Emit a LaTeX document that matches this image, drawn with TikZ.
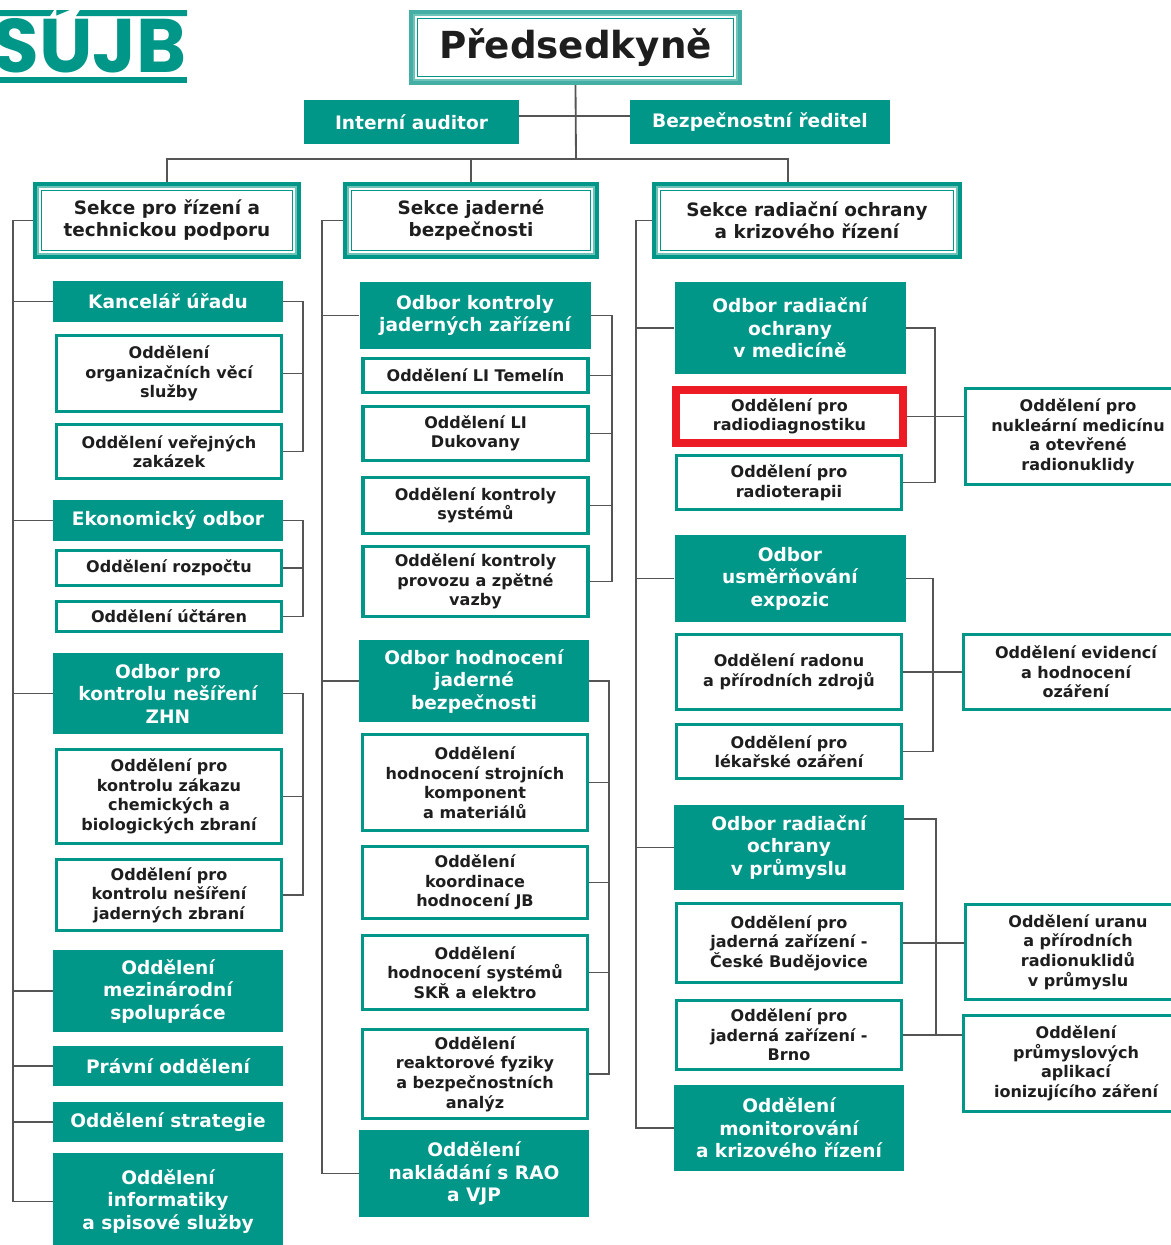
\documentclass[tikz,border=0pt]{standalone}
\usepackage{fontspec}
\setmainfont{DejaVu Sans}
\newfontfamily\logofont{Poppins}

\definecolor{tealC}{RGB}{0,150,136}
\definecolor{tealL}{RGB}{110,195,185}
\definecolor{tealM}{RGB}{70,175,165}
\definecolor{lineC}{RGB}{85,85,85}
\definecolor{txtC}{RGB}{30,30,30}
\definecolor{redC}{RGB}{237,28,36}

\tikzset{
  % box sizes given in pixels of the picture
  boxsize/.style 2 args={minimum width=#1*0.025cm, minimum height=#2*0.025cm},
  % section boxes with a double frame
  secbox/.style={draw=tealC, line width=3pt, fill=white, text=txtC, align=center, inner sep=0pt,
    font=\fontsize{13.1}{15.6}\selectfont\bfseries,
    path picture={
      \draw[tealL, line width=1.6pt] ([xshift=2.3pt,yshift=-2.3pt]path picture bounding box.north west) rectangle ([xshift=-2.3pt,yshift=2.3pt]path picture bounding box.south east);
      \draw[tealC, line width=0.8pt] ([xshift=4.4pt,yshift=-4.4pt]path picture bounding box.north west) rectangle ([xshift=-4.4pt,yshift=4.4pt]path picture bounding box.south east);}},
  % filled boxes
  headbox/.style={fill=tealC, text=white, align=center, inner sep=0pt,
    font=\fontsize{13.2}{16}\selectfont\bfseries},
  % white boxes
  unitbox/.style={draw=tealC, line width=2.4pt, fill=white, text=txtC, align=center, inner sep=0pt,
    font=\fontsize{11.4}{13.9}\selectfont\bfseries},
  markbox/.style={unitbox, draw=redC, line width=6pt},
  conn/.style={draw=lineC, line width=1.3pt},
}

\begin{document}
\begin{tikzpicture}[x=0.025cm, y=-0.025cm]
  \useasboundingbox (0,0) rectangle (1171,1245);
  \clip (0,0) rectangle (1171,1245);

  % Logo
  \begin{scope}
    \clip (0,10) rectangle (200,90);
    \node[anchor=base east, inner sep=0pt, text=tealC, font=\logofont\fontsize{54}{54}\selectfont\bfseries] (logo) at (187,72) {SÚJB};
  \end{scope}
  \fill[tealC] (0,10) -- (54,10) -- (50,16) -- (0,16) -- cycle;
  \fill[tealC] (80,10) -- (187,10) -- (187,16) -- (76,16) -- cycle;
  \fill[tealC] (0,77) rectangle (187,83);

  % Top of the chart
  \node[secbox, draw=tealM, boxsize={329}{71}, font=\fontsize{26.5}{30}\selectfont\bfseries] (pred) at (575.5,47.5) {Předsedkyně};
  \node[headbox, boxsize={215}{44}] (audit) at (411.5,122) {Interní auditor};
  \node[headbox, boxsize={260}{44}] (bezp) at (760,122) {Bezpečnostní ředitel};

  % Sections
  \node[secbox, boxsize={264}{73}] (sek1) at (167,220.5) {Sekce pro řízení a\\technickou podporu};
  \node[secbox, boxsize={252}{73}] (sek2) at (471,220.5) {Sekce jaderné\\bezpečnosti};
  \node[secbox, boxsize={306}{73}] (sek3) at (807,220.5) {Sekce radiační ochrany\\a krizového řízení};

  % Left column
  \node[headbox, boxsize={230}{41}] (kanc) at (168,301.5) {Kancelář úřadu};
  \node[unitbox, boxsize={225}{76}] (org) at (169,373.5) {Oddělení\\organizačních věcí\\služby};
  \node[unitbox, boxsize={225}{54}] (verej) at (169,451.5) {Oddělení veřejných\\zakázek};
  \node[headbox, boxsize={230}{41}] (ekon) at (168,520.5) {Ekonomický odbor};
  \node[unitbox, boxsize={225}{35}] (rozp) at (169,568) {Oddělení rozpočtu};
  \node[unitbox, boxsize={225}{30}] (uct) at (169,616.5) {Oddělení účtáren};
  \node[headbox, boxsize={230}{81}] (zhn) at (168,693.5) {Odbor pro\\kontrolu nešíření\\ZHN};
  \node[unitbox, boxsize={225}{94}] (chem) at (169,796.5) {Oddělení pro\\kontrolu zákazu\\chemických a\\biologických zbraní};
  \node[unitbox, boxsize={225}{71}] (jadz) at (169,895) {Oddělení pro\\kontrolu nešíření\\jaderných zbraní};
  \node[headbox, boxsize={230}{82}] (mezi) at (168,991) {Oddělení\\mezinárodní\\spolupráce};
  \node[headbox, boxsize={230}{40}] (prav) at (168,1066) {Právní oddělení};
  \node[headbox, boxsize={230}{40}] (strat) at (168,1122) {Oddělení strategie};
  \node[headbox, boxsize={230}{97}] (info) at (168,1201.5) {Oddělení\\informatiky\\a spisové služby};

  % Middle column
  \node[headbox, boxsize={231}{67}] (kjz) at (475,315.5) {Odbor kontroly\\jaderných zařízení};
  \node[unitbox, boxsize={225}{34}] (tem) at (475.5,375.5) {Oddělení LI Temelín};
  \node[unitbox, boxsize={225}{54}] (duk) at (475.5,433.5) {Oddělení LI\\Dukovany};
  \node[unitbox, boxsize={225}{56}] (sys) at (475.5,505.5) {Oddělení kontroly\\systémů};
  \node[unitbox, boxsize={225}{70}] (prov) at (475.5,581.5) {Oddělení kontroly\\provozu a zpětné\\vazby};
  \node[headbox, boxsize={230}{82}] (hjb) at (474,681) {Odbor hodnocení\\jaderné\\bezpečnosti};
  \node[unitbox, boxsize={225}{96}] (stroj) at (475,782.5) {Oddělení\\hodnocení strojních\\komponent\\a materiálů};
  \node[unitbox, boxsize={225}{72}] (koord) at (475,882.5) {Oddělení\\koordinace\\hodnocení JB};
  \node[unitbox, boxsize={225}{74}] (skr) at (475,972.5) {Oddělení\\hodnocení systémů\\SKŘ a elektro};
  \node[unitbox, boxsize={225}{89}] (reak) at (475,1074) {Oddělení\\reaktorové fyziky\\a bezpečnostních\\analýz};
  \node[headbox, boxsize={230}{87}] (rao) at (474,1173.5) {Oddělení\\nakládání s RAO\\a VJP};

  % Right column
  \node[headbox, boxsize={231}{92}] (med) at (790,328) {Odbor radiační\\ochrany\\v medicíně};
  \node[markbox, boxsize={227}{53}] (rdiag) at (789.5,416.5) {Oddělení pro\\radiodiagnostiku};
  \node[unitbox, boxsize={225}{54}] (rter) at (789,482.5) {Oddělení pro\\radioterapii};
  \node[unitbox, boxsize={225}{96}] (nukl) at (1078,436.5) {Oddělení pro\\nukleární medicínu\\a otevřené\\radionuklidy};
  \node[headbox, boxsize={231}{87}] (usm) at (790,578.5) {Odbor\\usměrňování\\expozic};
  \node[unitbox, boxsize={225}{75}] (radon) at (789,672) {Oddělení radonu\\a přírodních zdrojů};
  \node[unitbox, boxsize={225}{54}] (lek) at (789,751.5) {Oddělení pro\\lékařské ozáření};
  \node[unitbox, boxsize={225}{75}] (evid) at (1076,672) {Oddělení evidencí\\a hodnocení\\ozáření};
  \node[headbox, boxsize={230}{85}] (prum) at (789,847.5) {Odbor radiační\\ochrany\\v průmyslu};
  \node[unitbox, boxsize={225}{79}] (cb) at (789,943) {Oddělení pro\\jaderná zařízení -\\České Budějovice};
  \node[unitbox, boxsize={225}{69}] (brno) at (789,1035) {Oddělení pro\\jaderná zařízení -\\Brno};
  \node[headbox, boxsize={230}{86}] (mon) at (789,1128) {Oddělení\\monitorování\\a krizového řízení};
  \node[unitbox, boxsize={225}{95}] (uran) at (1078,952) {Oddělení uranu\\a přírodních\\radionuklidů\\v průmyslu};
  \node[unitbox, boxsize={225}{96}] (apl) at (1076,1063.5) {Oddělení\\průmyslových\\aplikací\\ionizujícího záření};

  % Lines from the top
  \coordinate (bus) at (576,159);
  \coordinate (busR) at (788,159);
  \draw[conn] (pred.south) -- (bus);
  \draw[conn] ([yshift=4pt]audit.east) -- ([yshift=4pt]bezp.west);
  \draw[conn] (sek1.north) |- (busR) -- (busR |- sek3.north);
  \draw[conn] (sek2.north) -- (sek2.north |- bus);

  % Spines of the sections
  \draw[conn] (sek1.west) -- ++(-20,0) coordinate (sp1) |- (info.west);
  \foreach \n in {kanc,ekon,zhn,mezi,prav,strat}
    \draw[conn] (\n.west) -- (\n.west -| sp1);
  \draw[conn] (sek2.west) -- ++(-21,0) coordinate (sp2) |- (rao.west);
  \foreach \n in {kjz,hjb}
    \draw[conn] (\n.west) -- (\n.west -| sp2);
  \draw[conn] (sek3.west) -- ++(-16,0) coordinate (sp3) |- (mon.west);
  \foreach \n in {med,usm,prum}
    \draw[conn] (\n.west) -- (\n.west -| sp3);

  % Brackets of the departments
  \draw[conn] (kanc.east) -- ++(20,0) coordinate (b1) |- (verej.east);
  \draw[conn] (org.east) -- (org.east -| b1);
  \draw[conn] (ekon.east) -- ++(20,0) coordinate (b2) |- (uct.east);
  \draw[conn] (rozp.east) -- (rozp.east -| b2);
  \draw[conn] (zhn.east) -- ++(20,0) coordinate (b3) |- (jadz.east);
  \draw[conn] (chem.east) -- (chem.east -| b3);
  \draw[conn] (kjz.east) -- ++(21,0) coordinate (b4) |- (prov.east);
  \foreach \n in {tem,duk,sys}
    \draw[conn] (\n.east) -- (\n.east -| b4);
  \draw[conn] (hjb.east) -- ++(20,0) coordinate (b5) |- (reak.east);
  \foreach \n in {stroj,koord,skr}
    \draw[conn] (\n.east) -- (\n.east -| b5);
  \draw[conn] (med.east) -- ++(29.5,0) coordinate (b6) |- (rter.east);
  \draw[conn] (rdiag.east) -- (rdiag.east -| nukl.west);
  \draw[conn] (usm.east) -- ++(27.5,0) coordinate (b7) |- (lek.east);
  \draw[conn] (radon.east) -- (radon.east -| evid.west);
  \draw[conn] ([yshift=20pt]prum.east) -- ++(32,0) coordinate (b8) |- (brno.east);
  \draw[conn] (cb.east) -- (cb.east -| uran.west);
  \draw[conn] (brno.east) -- (brno.east -| apl.west);

\end{tikzpicture}
\end{document}
